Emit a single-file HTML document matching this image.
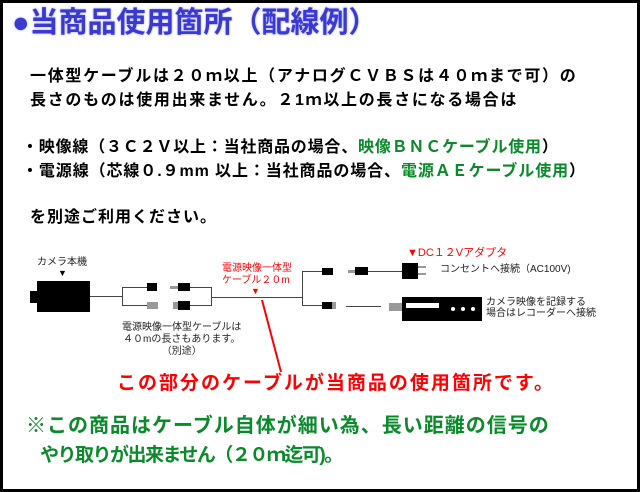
<!DOCTYPE html>
<html><head><meta charset="utf-8"><style>
body{margin:0;width:640px;height:492px;overflow:hidden;background:#fff}
#f{position:absolute;left:0;top:0;width:634px;height:486px;border:3px solid #000;background:#fff}
.t{position:absolute;white-space:nowrap;font-family:"Liberation Sans","Noto Sans CJK JP",sans-serif;line-height:1}
.b{font-weight:bold;font-size:16px;color:#000}
.s{font-size:10px;color:#222}
.r{color:#ff0000}
.g{color:#0a8a2a}
.k{position:absolute;background:#000}
.gr{position:absolute;background:#999}
.ln{position:absolute;background:#444}
</style></head><body><div id="f"></div>
<div class="t" style="left:12px;top:9px;font-size:29px;font-weight:bold;color:#3a3ad0;text-shadow:0 0 2px #9999ff">●当商品使用箇所（配線例）</div>
<div class="t b" style="left:30px;top:69px;letter-spacing:1.7px">一体型ケーブルは２０ｍ以上（アナログＣＶＢＳは４０ｍまで可）の</div>
<div class="t b" style="left:30px;top:93px;letter-spacing:1.7px">長さのものは使用出来ません。２1ｍ以上の長さになる場合は</div>
<div class="t b" style="left:22px;top:140px;letter-spacing:0.8px">・映像線（３Ｃ２Ｖ以上：当社商品の場合、<span class="g">映像ＢＮＣケーブル使用</span>）</div>
<div class="t b" style="left:22px;top:164px;letter-spacing:0.9px">・電源線（芯線０.９mm 以上：当社商品の場合、<span class="g">電源ＡＥケーブル使用</span>）</div>
<div class="t b" style="left:30px;top:210px;letter-spacing:1px">を別途ご利用ください。</div>

<div class="t s" style="left:37px;top:258px">カメラ本機</div>
<div class="t" style="left:58px;top:269px;font-size:9px">▼</div>
<div class="k" style="left:30px;top:291px;width:8px;height:12px"></div>
<div class="k" style="left:37px;top:281px;width:53px;height:31px"></div>
<div class="ln" style="left:90px;top:296px;width:32px;height:1px"></div>
<div class="ln" style="left:122px;top:287px;width:1px;height:19px"></div>
<div class="ln" style="left:122px;top:287px;width:25px;height:1px"></div>
<div class="ln" style="left:122px;top:305px;width:25px;height:1px"></div>
<div class="k" style="left:147px;top:283px;width:10px;height:8px"></div>
<div class="gr" style="left:147px;top:302px;width:11px;height:7px"></div>
<div class="gr" style="left:170px;top:286px;width:8px;height:3px"></div>
<div class="k" style="left:178px;top:283px;width:12px;height:8px"></div>
<div class="gr" style="left:173px;top:302px;width:5px;height:7px"></div>
<div class="k" style="left:178px;top:301px;width:12px;height:9px"></div>
<div class="ln" style="left:190px;top:287px;width:21px;height:1px"></div>
<div class="ln" style="left:190px;top:305px;width:21px;height:1px"></div>
<div class="ln" style="left:211px;top:287px;width:1px;height:19px"></div>
<div class="ln" style="left:211px;top:297px;width:91px;height:1px"></div>
<div class="t s" style="left:122px;top:322px;text-align:center;line-height:12px">電源映像一体型ケーブルは<br>４０mの長さもあります。<br>（別途）</div>
<div class="t s r" style="left:222px;top:263px;line-height:12px">電源映像一体型<br>ケーブル２０m</div>
<div class="t r" style="left:251px;top:287px;font-size:9px">▼</div>
<svg style="position:absolute;left:0;top:0" width="640" height="492"><line x1="262" y1="300" x2="281" y2="372" stroke="#f00" stroke-width="2"/></svg>
<div class="ln" style="left:302px;top:271px;width:1px;height:35px"></div>
<div class="ln" style="left:302px;top:271px;width:20px;height:1px"></div>
<div class="ln" style="left:302px;top:305px;width:20px;height:1px"></div>
<div class="k" style="left:322px;top:268px;width:11px;height:7px"></div>
<div class="k" style="left:322px;top:302px;width:10px;height:7px"></div>
<div class="gr" style="left:332px;top:302px;width:4px;height:7px"></div>
<div class="gr" style="left:348px;top:270px;width:8px;height:3px"></div>
<div class="k" style="left:355px;top:267px;width:13px;height:8px"></div>
<div class="ln" style="left:368px;top:271px;width:34px;height:1px"></div>
<div class="ln" style="left:346px;top:306px;width:35px;height:1px"></div>
<div class="k" style="left:402px;top:263px;width:16px;height:16px"></div>
<div class="gr" style="left:418px;top:266px;width:8px;height:2px"></div>
<div class="gr" style="left:418px;top:273px;width:8px;height:2px"></div>
<div class="t r" style="left:407px;top:248px;font-size:11px">▼DC１２Vアダプタ</div>
<div class="t s" style="left:440px;top:265px">コンセントへ接続（AC100V)</div>
<div class="gr" style="left:389px;top:303px;width:13px;height:8px"></div>
<div class="k" style="left:402px;top:297px;width:80px;height:24px"></div>
<div style="position:absolute;left:406px;top:303px;width:33px;height:5px;background:#fff"></div>
<div style="position:absolute;left:451px;top:307px;width:4px;height:4px;border-radius:2px;background:#fff"></div>
<div style="position:absolute;left:461px;top:307px;width:4px;height:4px;border-radius:2px;background:#fff"></div>
<div style="position:absolute;left:471px;top:307px;width:4px;height:4px;border-radius:2px;background:#fff"></div>
<div class="t s" style="left:486px;top:297px;line-height:11px">カメラ映像を記録する<br>場合はレコーダーへ接続</div>
<div class="t r" style="left:117px;top:374px;font-size:19px;font-weight:bold;letter-spacing:2px">この部分のケーブルが当商品の使用箇所です。</div>
<div class="t g" style="left:26px;top:416px;font-size:20px;font-weight:bold;letter-spacing:1px">※この商品はケーブル自体が細い為、長い距離の信号の</div>
<div class="t g" style="left:40px;top:446px;font-size:19px;font-weight:bold;letter-spacing:-1.5px">やり取りが出来ません（２０ｍ迄可)。</div>
</body></html>
